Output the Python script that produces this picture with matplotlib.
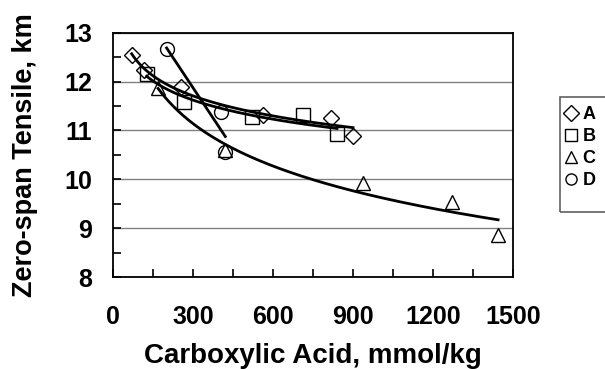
import numpy as np
import matplotlib
matplotlib.use("Agg")
import matplotlib.pyplot as plt
from matplotlib.ticker import MultipleLocator
from matplotlib.patches import Rectangle

plt.rcParams['font.family'] = ['Liberation Sans', 'DejaVu Sans']
plt.rcParams['font.weight'] = 'bold'

# data
a_x = [70, 115, 255, 563, 817, 900]
a_y = [12.55, 12.24, 11.89, 11.32, 11.26, 10.89]
b_x = [126, 266, 521, 712, 840]
b_y = [12.16, 11.59, 11.28, 11.32, 10.93]
c_x = [169, 420, 937, 1271, 1444]
c_y = [11.87, 10.60, 9.93, 9.54, 8.85]
d_x = [201, 404, 421]
d_y = [12.66, 11.37, 10.55]

series = [
    ("A", a_x, a_y, "D", 8.5, "log"),
    ("B", b_x, b_y, "s", 10, "log"),
    ("C", c_x, c_y, "^", 10, "log"),
    ("D", d_x, d_y, "o", 10, "lin"),
]

fig = plt.figure(figsize=(6.05, 3.69), dpi=100)
ax = fig.add_axes([0.1868, 0.2493, 0.6612, 0.6621])

handles = []
for name, xs, ys, mk, ms, fit in series:
    xs = np.array(xs, dtype=float)
    ys = np.array(ys, dtype=float)
    # trend line through each series
    xx = np.linspace(xs.min(), xs.max(), 200)
    if fit == "log":
        p = np.polyfit(np.log(xs), ys, 1)
        yy = np.polyval(p, np.log(xx))
    else:
        p = np.polyfit(xs, ys, 1)
        yy = np.polyval(p, xx)
    ax.plot(xx, yy, color='black', lw=2, zorder=2)
    h, = ax.plot(xs, ys, linestyle='none', marker=mk, markersize=ms,
                 markerfacecolor='none', markeredgecolor='black',
                 markeredgewidth=1.0, label=name, zorder=3)
    handles.append(h)

ax.set_xlim(0, 1500)
ax.set_ylim(8, 13)
ax.xaxis.set_major_locator(MultipleLocator(300))
ax.xaxis.set_minor_locator(MultipleLocator(150))
ax.yaxis.set_major_locator(MultipleLocator(1))
ax.yaxis.set_minor_locator(MultipleLocator(0.5))
ax.grid(axis='y', which='major', color='#808080', lw=1)
ax.set_axisbelow(True)
ax.tick_params(which='both', direction='in', length=6, width=1.2, labelsize=18)
ax.tick_params(axis='x', pad=20)
ax.tick_params(axis='y', pad=15)
for lab in ax.get_xticklabels() + ax.get_yticklabels():
    lab.set_fontweight('bold')
for sp in ax.spines.values():
    sp.set_linewidth(1.3)

ax.set_xlabel('Carboxylic Acid, mmol/kg', fontsize=20, fontweight='bold', va='center')
ax.set_ylabel('Zero-span Tensile, km', fontsize=19.5, fontweight='bold', va='center')
ax.xaxis.set_label_coords(0.5, -0.323)
ax.yaxis.set_label_coords(-0.22, 0.5)

# legend outside the plot, with its own box reaching the right edge
leg = fig.legend(handles=handles, loc='upper left', bbox_to_anchor=(0.936, 0.712),
                 bbox_transform=fig.transFigure, borderaxespad=0,
                 frameon=False, handlelength=0.5, handletextpad=0.4,
                 borderpad=0.0, labelspacing=0.27,
                 prop={'weight': 'bold', 'size': 13})
for h in leg.legend_handles:
    h.set_markersize(8)
fig.patches.append(Rectangle((0.9256, 0.425), 0.09, 0.312, transform=fig.transFigure,
                             fill=False, edgecolor='#606060', lw=1.2))

fig.savefig('out.png', dpi=100)
